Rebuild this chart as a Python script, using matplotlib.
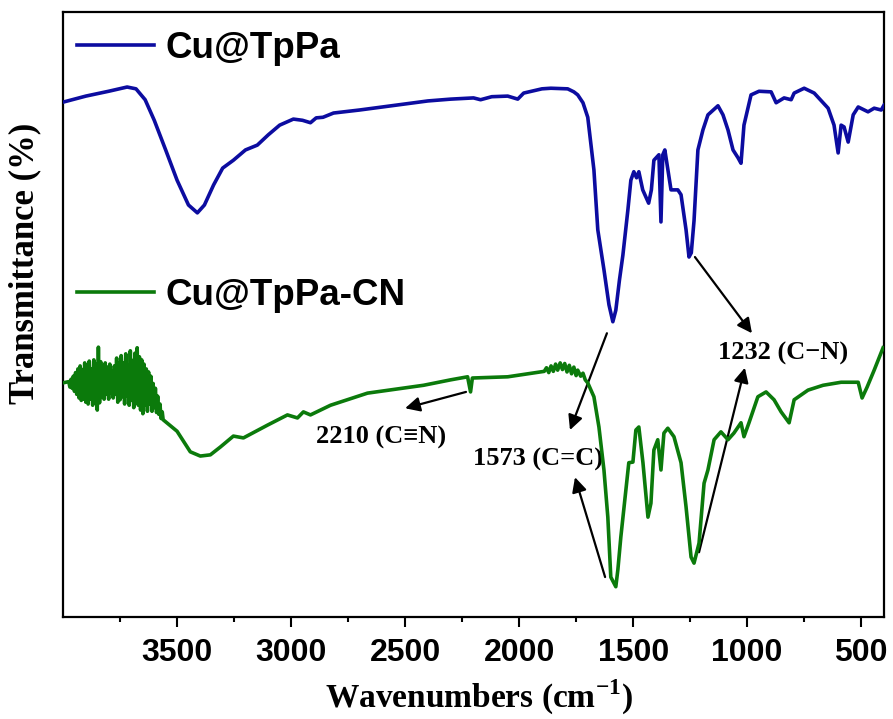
import numpy as np
from matplotlib import pyplot as plt
from matplotlib.ticker import FixedLocator

plt.rcParams['mathtext.fontset'] = 'custom'
plt.rcParams['mathtext.rm'] = 'Liberation Serif:bold'
plt.rcParams['mathtext.bf'] = 'Liberation Serif:bold'

# FTIR spectrum of Cu@TpPa (wavenumber in cm-1, transmittance in arbitrary %)
wn_tppa = [4000, 3900, 3800, 3719, 3680, 3640, 3600, 3550, 3500, 3450, 3411,
           3380, 3340, 3300, 3253, 3200, 3148, 3100, 3050, 2990, 2950, 2915,
           2890, 2860, 2814, 2700, 2600, 2500, 2400, 2300, 2200, 2169, 2120,
           2050, 2006, 1980, 1900, 1861, 1787, 1760, 1743, 1720, 1699, 1672,
           1655, 1628, 1606, 1589, 1576, 1560, 1545, 1523, 1510, 1497, 1485,
           1475, 1458, 1432, 1420, 1409, 1387, 1378, 1370, 1361, 1334, 1304,
           1290, 1268, 1255, 1245, 1233, 1216, 1194, 1172, 1128, 1106, 1084,
           1062, 1040, 1027, 1014, 983, 948, 895, 873, 838, 807, 794, 750,
           706, 645, 619, 601, 588, 575, 557, 535, 513, 470, 443, 412, 400]
t_tppa = [85.1, 86.1, 86.9, 87.6, 87.3, 85.5, 82.1, 77.2, 72.2, 68.1, 66.8,
          68.1, 71.4, 74.2, 75.5, 77.2, 78.0, 79.7, 81.3, 82.3, 82.1, 81.7,
          82.5, 82.6, 83.3, 83.8, 84.3, 84.8, 85.3, 85.6, 85.8, 85.5, 86.0,
          86.1, 85.6, 86.6, 87.3, 87.4, 87.3, 86.8, 86.3, 85.0, 82.6, 73.9,
          64.0, 57.4, 51.6, 48.8, 50.7, 55.7, 59.8, 67.3, 72.2, 73.6, 72.6,
          73.6, 70.6, 68.4, 70.6, 75.5, 76.4, 65.3, 76.4, 77.2, 70.6, 70.6,
          69.8, 64.0, 59.5, 60.2, 65.5, 77.2, 80.5, 83.0, 84.5, 83.0, 80.5,
          77.2, 75.9, 75.0, 81.3, 86.3, 86.9, 86.8, 85.0, 85.8, 85.5, 86.6, 87.4,
          86.6, 84.1, 81.3, 76.7, 81.3, 81.0, 78.5, 83.0, 84.3, 83.5, 84.1, 83.8, 84.6]

# Cu@TpPa-CN: noisy O-H region sampled every 5 cm-1
wn_cn_noise = np.arange(3975, 3560, -5)
t_cn_noise = [38.9, 38.0, 39.3, 37.8, 39.8, 37.3, 40.4, 36.8, 41.0, 36.2,
              41.5, 35.8, 40.9, 36.0, 42.0, 35.5, 41.2, 35.2, 42.3, 36.0,
              41.0, 35.0, 42.5, 35.6, 41.8, 34.2, 44.6, 35.4, 42.2, 36.3,
              41.5, 36.0, 42.0, 36.8, 41.3, 36.0, 41.8, 37.0, 40.6, 36.2,
              41.5, 36.8, 42.8, 35.5, 42.0, 35.9, 43.2, 36.4, 42.0, 35.2,
              43.5, 36.5, 41.6, 35.0, 44.0, 35.8, 42.4, 34.6, 43.6, 35.5,
              44.5, 35.0, 43.0, 34.2, 42.5, 33.6, 41.8, 35.0, 41.0, 34.0,
              40.5, 35.2, 39.8, 34.0, 38.6, 34.6, 37.8, 33.8, 36.5, 33.5,
              35.2, 32.8, 33.9]

# Cu@TpPa-CN: remainder of the spectrum
wn_cn_rest = [3561, 3500, 3442, 3398, 3354, 3310, 3253, 3209, 3104, 3016, 2972,
              2946, 2915, 2827, 2665, 2419, 2300, 2226, 2218, 2213, 2205, 2050,
              1905, 1890, 1880, 1870, 1860, 1850, 1840, 1831, 1820, 1810, 1800,
              1790, 1780, 1770, 1760, 1750, 1743, 1730, 1720, 1710, 1699, 1672,
              1650, 1628, 1611, 1598, 1576, 1567, 1554, 1532, 1519, 1501, 1488,
              1475, 1457, 1435, 1422, 1409, 1392, 1378, 1365, 1348, 1321, 1290,
              1268, 1246, 1233, 1211, 1189, 1172, 1145, 1115, 1084, 1058, 1027,
              1014, 992, 953, 917, 882, 851, 816, 794, 733, 667, 588, 513, 496,
              474, 443, 404]
t_cn_rest = [32.6, 30.7, 27.3, 26.6, 26.8, 28.1, 29.9, 29.6, 31.7, 33.4, 32.9,
             33.9, 33.4, 35.0, 37.0, 38.3, 39.2, 39.7, 38.2, 37.2, 39.5, 39.7,
             40.5, 40.6, 41.2, 40.4, 41.5, 40.6, 41.8, 40.8, 42.0, 40.9, 41.9,
             40.5, 41.6, 40.2, 41.3, 39.9, 40.8, 39.8, 40.3, 39.2, 38.7, 36.4,
             31.4, 24.3, 16.5, 6.6, 5.0, 7.8, 13.2, 21.0, 25.5, 25.6, 30.9,
             31.4, 25.5, 16.5, 18.8, 27.6, 29.3, 24.3, 30.4, 31.2, 29.8, 25.5,
             18.2, 9.9, 8.9, 12.2, 22.1, 24.3, 29.3, 30.6, 29.3, 30.4, 32.1,
             29.8, 32.1, 36.4, 37.2, 35.9, 33.9, 32.1, 35.9, 37.5, 38.3, 38.8, 38.8, 36.2,
             38.0, 40.8, 44.5]

wn_cn = np.concatenate([[4000], wn_cn_noise, wn_cn_rest])
t_cn = np.concatenate([[38.7], t_cn_noise, t_cn_rest])

# peak assignments: label, text position, arrow (tail, head) pairs
peak_labels = ['2210 (C\u2261N)', '1573 (C=C)', '1232 (C\u2212N)']
label_pos = [(2606, 29.6), (1917, 26.0), (843, 43.6)]
arrows = [((2233, 37.2), (2500, 34.5)),
          ((1615, 46.9), (1777, 30.9)),
          ((1623, 6.6), (1755, 23.1)),
          ((1229, 59.5), (979, 46.9)),
          ((1211, 10.7), (1010, 41.2))]

fig = plt.figure(figsize=(8.93, 7.19), dpi=100)
ax = fig.add_axes([0.0706, 0.1419, 0.9193, 0.8414])

l1, = ax.plot(wn_tppa, t_tppa, color='#0c0ca0', lw=2.6, label='Cu@TpPa', zorder=3)
l2, = ax.plot(wn_cn, t_cn, color='#0b7a0b', lw=2.6, label='Cu@TpPa-CN', zorder=3)

ax.set_xlim(4000, 400)
ax.set_ylim(0, 100)

serif = ['Liberation Serif', 'DejaVu Serif']
for (tail, head) in arrows:
    ax.annotate('', xy=head, xytext=tail,
                arrowprops=dict(arrowstyle='-|>', color='black', lw=1.6,
                                mutation_scale=22, shrinkA=0, shrinkB=0),
                zorder=2)
for txt, (x, y) in zip(peak_labels, label_pos):
    ax.text(x, y, txt, ha='center', va='center', fontsize=19,
            fontweight='bold', family=serif, zorder=1)

# separate legends for each curve
leg_font = {'family': 'Liberation Sans', 'weight': 'bold', 'size': 26.5}
leg1 = ax.legend(handles=[l1], loc='center left', bbox_to_anchor=(0.017, 0.940),
                 frameon=False, prop=leg_font, handlelength=2.1,
                 handletextpad=0.3, borderpad=0, borderaxespad=0)
ax.add_artist(leg1)
ax.legend(handles=[l2], loc='center left', bbox_to_anchor=(0.017, 0.532),
          frameon=False, prop=leg_font, handlelength=2.1,
          handletextpad=0.3, borderpad=0, borderaxespad=0)

ax.xaxis.set_major_locator(FixedLocator([3500, 3000, 2500, 2000, 1500, 1000, 500]))
ax.xaxis.set_minor_locator(FixedLocator([3750, 3250, 2750, 2250, 1750, 1250, 750]))
ax.tick_params(axis='x', which='major', direction='out', length=7, width=1.5, pad=8)
ax.tick_params(axis='x', which='minor', direction='out', length=3.5, width=1.5)
ax.set_yticks([])
for lab in ax.get_xticklabels():
    lab.set_fontfamily('Liberation Sans')
    lab.set_fontweight('bold')
    lab.set_fontsize(23)
for s in ax.spines.values():
    s.set_linewidth(1.6)

ax.set_xlabel(r'Wavenumbers (cm$^{-1}$)', fontsize=24, fontweight='bold',
              family=serif)
ax.set_ylabel('Transmittance (%)', fontsize=25, fontweight='bold', family=serif)
ax.xaxis.set_label_coords(0.506, -0.100)
ax.yaxis.set_label_coords(-0.026, 0.585)

fig.savefig('out.png', dpi=100)
